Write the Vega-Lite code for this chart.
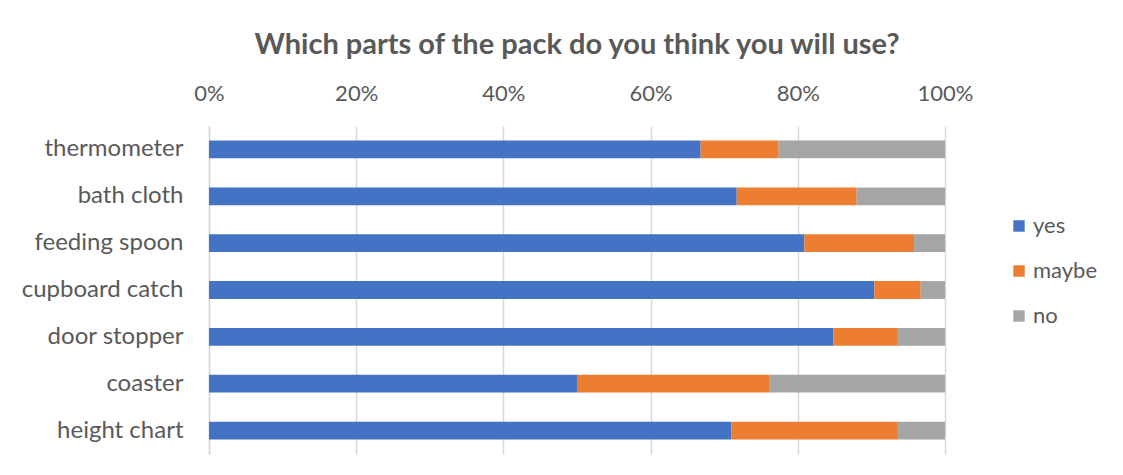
{
  "$schema": "https://vega.github.io/schema/vega-lite/v6.json",
  "width": 736,
  "height": 328,
  "autosize": "none",
  "padding": {"left": 209, "top": 126, "right": 178, "bottom": 21},
  "background": "white",
  "title": {
    "text": "Which parts of the pack do you think you will use?",
    "font": "Lato",
    "fontSize": 29,
    "fontWeight": "bold",
    "color": "#595959",
    "anchor": "middle",
    "offset": 22
  },
  "data": {
    "values": [
      {"item": "thermometer", "response": "yes", "pct": 66.8},
      {"item": "thermometer", "response": "maybe", "pct": 10.6},
      {"item": "thermometer", "response": "no", "pct": 22.6},
      {"item": "bath cloth", "response": "yes", "pct": 71.7},
      {"item": "bath cloth", "response": "maybe", "pct": 16.3},
      {"item": "bath cloth", "response": "no", "pct": 12.0},
      {"item": "feeding spoon", "response": "yes", "pct": 80.9},
      {"item": "feeding spoon", "response": "maybe", "pct": 14.9},
      {"item": "feeding spoon", "response": "no", "pct": 4.2},
      {"item": "cupboard catch", "response": "yes", "pct": 90.4},
      {"item": "cupboard catch", "response": "maybe", "pct": 6.3},
      {"item": "cupboard catch", "response": "no", "pct": 3.3},
      {"item": "door stopper", "response": "yes", "pct": 84.8},
      {"item": "door stopper", "response": "maybe", "pct": 8.8},
      {"item": "door stopper", "response": "no", "pct": 6.4},
      {"item": "coaster", "response": "yes", "pct": 50.0},
      {"item": "coaster", "response": "maybe", "pct": 26.2},
      {"item": "coaster", "response": "no", "pct": 23.8},
      {"item": "height chart", "response": "yes", "pct": 71.0},
      {"item": "height chart", "response": "maybe", "pct": 22.6},
      {"item": "height chart", "response": "no", "pct": 6.4}
    ]
  },
  "transform": [
    {"calculate": "indexof(['yes','maybe','no'], datum.response)", "as": "k"}
  ],
  "mark": {"type": "bar"},
  "encoding": {
    "y": {
      "field": "item",
      "type": "nominal",
      "sort": ["thermometer", "bath cloth", "feeding spoon", "cupboard catch", "door stopper", "coaster", "height chart"],
      "scale": {"paddingInner": 0.62, "paddingOuter": 0.31},
      "axis": {
        "title": null,
        "ticks": false,
        "domain": true,
        "domainColor": "#d9d9d9",
        "domainWidth": 1.5,
        "labelPadding": 26,
        "labelFont": "Lato",
        "labelFontSize": 24,
        "labelColor": "#595959"
      }
    },
    "x": {
      "field": "pct",
      "type": "quantitative",
      "stack": "normalize",
      "scale": {"domain": [0, 1], "nice": false},
      "axis": {
        "orient": "top",
        "title": null,
        "format": "%",
        "values": [0, 0.2, 0.4, 0.6, 0.8, 1],
        "grid": true,
        "gridColor": "#d9d9d9",
        "gridWidth": 1.5,
        "domain": false,
        "ticks": false,
        "labelFlush": false,
        "labelPadding": 21,
        "labelFont": "Lato",
        "labelFontSize": 22,
        "labelColor": "#595959"
      }
    },
    "order": {"field": "k", "type": "quantitative"},
    "color": {
      "field": "response",
      "type": "nominal",
      "sort": ["yes", "maybe", "no"],
      "scale": {"domain": ["yes", "maybe", "no"], "range": ["#4472C4", "#ED7D31", "#A5A5A5"]},
      "legend": {
        "title": null,
        "orient": "none",
        "legendX": 799,
        "legendY": 89,
        "symbolType": "square",
        "symbolSize": 130,
        "symbolStrokeWidth": 0,
        "symbolOpacity": 1,
        "rowPadding": 23,
        "labelFont": "Lato",
        "labelFontSize": 22,
        "labelColor": "#595959",
        "labelOffset": 3
      }
    }
  },
  "config": {
    "view": {"stroke": null}
  }
}
